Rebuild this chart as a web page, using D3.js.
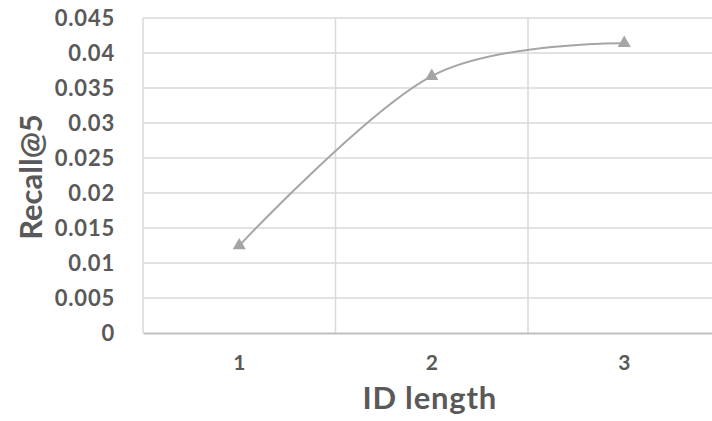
<!DOCTYPE html>
<html><head><meta charset="utf-8">
<script src="https://cdn.jsdelivr.net/npm/d3@7/dist/d3.min.js"></script>
<style>body{margin:0;background:#fff}svg{display:block}</style>
</head><body><svg id="c" width="712" height="421"></svg>
<script>
const categories = ["1", "2", "3"];
const recall = [0.0125, 0.0367, 0.0414];
const yTicks = [0, 0.005, 0.01, 0.015, 0.02, 0.025, 0.03, 0.035, 0.04, 0.045];
const yTickLabels = ["0", "0.005", "0.01", "0.015", "0.02", "0.025", "0.03", "0.035", "0.04", "0.045"];

(function () {
const svg = d3.select("#c");
const mLeft = 143, mTop = 18, mBottom = 333, bandW = 192.5;
const mRight = mLeft + bandW * categories.length;
const x = d3.scaleBand().domain(categories).range([mLeft, mRight]);
const y = d3.scaleLinear().domain([0, 0.045]).range([mBottom, mTop]);
const font = "Lato, 'Open Sans', sans-serif";
const txt = "#595959";

svg.append("g").selectAll("line").data(yTicks.slice(1)).join("line")
  .attr("x1", mLeft).attr("x2", mRight).attr("y1", d => y(d)).attr("y2", d => y(d))
  .attr("stroke", "#d9d9d9").attr("stroke-width", 1.5);
svg.append("g").selectAll("line").data(categories.slice(1)).join("line")
  .attr("x1", d => x(d)).attr("x2", d => x(d)).attr("y1", mTop).attr("y2", mBottom)
  .attr("stroke", "#d9d9d9").attr("stroke-width", 1.5);
svg.append("line").attr("x1", mLeft).attr("x2", mLeft).attr("y1", mTop).attr("y2", mBottom)
  .attr("stroke", "#d9d9d9").attr("stroke-width", 1.5);

const xAxis = d3.axisBottom(x).tickSize(0).tickPadding(22);
const gx = svg.append("g").attr("transform", `translate(0,${mBottom})`).call(xAxis);
gx.select(".domain").attr("stroke", "#bfbfbf").attr("stroke-width", 2);
gx.selectAll("text").attr("font-family", font).attr("font-size", 21).attr("font-weight", 700).attr("fill", txt);

const yAxis = d3.axisLeft(y).tickValues(yTicks).tickFormat((d, i) => yTickLabels[i]).tickSize(0).tickPadding(28);
const gy = svg.append("g").attr("transform", `translate(${mLeft},0)`).call(yAxis);
gy.select(".domain").remove();
gy.selectAll("text").attr("font-family", font).attr("font-size", 22).attr("font-weight", 700)
  .attr("letter-spacing", 0.8).attr("fill", txt);

const pts = categories.map((c, i) => [x(c) + x.bandwidth() / 2, y(recall[i])]);
svg.append("path").attr("d", d3.line().curve(d3.curveCardinal.tension(0))(pts))
  .attr("fill", "none").attr("stroke", "#a5a5a5").attr("stroke-width", 2);
svg.append("g").selectAll("path").data(pts).join("path")
  .attr("transform", d => `translate(${d[0]},${d[1]})`)
  .attr("d", d3.symbol().type(d3.symbolTriangle).size(75))
  .attr("fill", "#a5a5a5");

svg.append("text").attr("x", x("2") + x.bandwidth() / 2 - 2).attr("y", 409)
  .attr("text-anchor", "middle").attr("font-family", font).attr("font-size", 31).attr("font-weight", 700)
  .attr("letter-spacing", 0.8).attr("fill", txt).text("ID length");
svg.append("text").attr("transform", "translate(42,177) rotate(-90)")
  .attr("text-anchor", "middle").attr("font-family", font).attr("font-size", 31).attr("font-weight", 700)
  .attr("fill", txt).text("Recall@5");
})();
</script></body></html>
